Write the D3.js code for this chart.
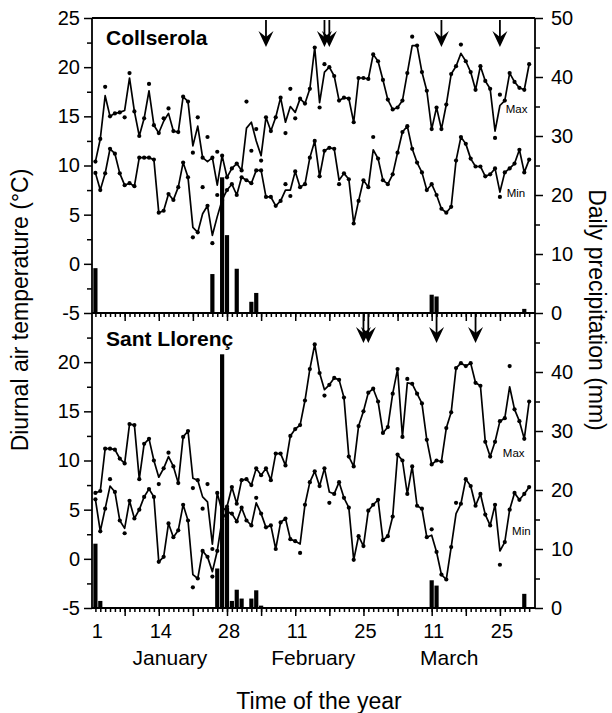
<!DOCTYPE html>
<html>
<head>
<meta charset="utf-8">
<script src="https://cdn.jsdelivr.net/npm/d3@7"></script>
<style>
  body { margin: 0; background: #fff; }
  svg { display: block; }
</style>
</head>
<body>
<div id="chart"></div>
<script>
// daily values, day 1 = 1 January
const collMax = [10.4, 12.7, 17.1, 15.0, 15.3, 15.4, 15.6, 18.9, 15.5, 13.0,
  14.8, 17.6, 14.1, 13.3, 14.5, 15.3, 13.5, 13.4, 17.0, 16.5,
  12.0, 14.0, 10.8, 10.4, 10.8, 8.0, 11.0, 8.8, 9.7, 10.2,
  9.5, 13.8, 14.4, 12.5, 11.0, 14.9, 13.5, 14.9, 16.9, 14.4,
  16.0, 15.4, 16.8, 16.3, 17.8, 22.0, 16.4, 19.5, 20.0, 19.1,
  16.6, 16.9, 16.8, 14.4, 18.9, 18.9, 18.8, 21.3, 20.6, 18.7,
  16.7, 15.7, 15.9, 16.6, 19.4, 22.2, 22.2, 19.5, 17.6, 13.7,
  15.9, 13.7, 16.2, 19.3, 20.1, 21.4, 20.6, 19.5, 17.7, 20.1,
  18.6, 17.8, 13.5, 16.1, 16.6, 19.4, 18.5, 17.9, 17.7, 20.3];
const collMin = [9.25, 7.5, 9.2, 11.7, 11.2, 9.2, 8.0, 8.2, 7.9, 10.8,
  10.8, 10.8, 10.6, 5.2, 5.4, 7.1, 6.5, 7.8, 10.3, 8.8,
  3.7, 3.2, 5.1, 5.9, 2.9, 4.8, 6.5, 7.5, 8.1, 7.0,
  8.8, 8.5, 8.2, 9.5, 9.5, 6.8, 6.8, 5.9, 6.4, 7.5,
  7.5, 9.4, 7.8, 8.1, 10.8, 12.5, 8.9, 11.5, 11.8, 11.7,
  8.5, 9.2, 8.6, 4.1, 6.4, 8.5, 7.8, 11.6, 10.7, 8.5,
  8.1, 9.1, 11.3, 13.4, 14.0, 11.7, 10.3, 9.3, 7.5, 8.1,
  7.0, 5.6, 5.2, 5.8, 10.5, 12.9, 12.2, 10.7, 9.9, 9.9,
  8.9, 9.1, 9.7, 7.3, 9.3, 9.7, 10.2, 11.6, 9.3, 10.6];
const llorMax = [6.7, 6.9, 11.2, 11.2, 11.1, 10.2, 9.7, 13.7, 13.6, 8.1,
  11.7, 12.2, 10.0, 8.3, 9.2, 10.4, 9.4, 7.7, 12.4, 13.0,
  8.2, 8.0, 6.3, 5.8, 1.5, 6.7, 4.8, 5.3, 7.3, 5.6,
  8.0, 8.1, 7.5, 9.2, 8.5, 9.2, 8.0, 10.7, 10.7, 9.5,
  12.5, 13.2, 13.6, 16.1, 19.3, 21.8, 18.9, 17.2, 17.7, 18.4,
  18.2, 16.4, 10.4, 9.4, 13.5, 15.0, 16.9, 17.3, 16.0, 12.8,
  13.4, 16.8, 19.3, 12.4, 17.9, 17.8, 16.8, 15.8, 12.1, 9.6,
  10.0, 9.9, 13.3, 14.9, 19.4, 19.9, 19.6, 19.9, 17.9, 17.6,
  11.9, 10.4, 11.9, 14.0, 14.3, 17.5, 15.2, 14.0, 12.2, 16.0];
const llorMin = [6.05, 2.8, 5.1, 7.4, 6.8, 3.9, 3.1, 5.9, 4.1, 5.0,
  6.3, 7.1, 6.3, -0.3, 0.2, 3.6, 2.2, 2.9, 5.5, 3.9,
  -1.6, -2.0, 0.8, 0.2, -1.3, 0.8, 4.0, 4.8, 4.6, 3.8,
  5.2, 3.9, 3.4, 5.7, 4.6, 3.2, 3.4, 1.0, 3.7, 4.1,
  2.0, 1.8, 1.5, 5.5, 7.8, 8.9, 7.4, 9.2, 6.8, 6.6,
  7.8, 6.2, 5.2, -0.1, 2.3, 1.3, 4.9, 5.5, 6.0, 1.9,
  2.3, 4.3, 10.6, 10.0, 6.6, 9.4, 5.4, 5.1, 2.2, 2.4,
  0.7, -1.6, -2.1, 1.2, 4.6, 5.6, 8.1, 7.4, 5.4, 6.6,
  4.5, 3.4, 5.5, 0.8, 1.7, 5.0, 6.7, 6.0, 6.6, 7.3];

// measured points that sit off the drawn line: [day, value]
const collMaxOff = [[3, 18.0], [7, 14.9], [8, 19.4], [12, 18.3], [15, 14.8], [16, 15.8],
  [21, 11.3], [22, 14.9], [24, 12.9], [26, 11.4], [32, 16.5], [33, 11.5], [34, 13.7],
  [35, 10.5], [40, 13.3], [41, 17.8], [42, 14.8], [47, 15.9], [48, 20.3], [66, 23.1],
  [76, 22.3], [83, 12.8], [84, 17.2]];
const collMinOff = [[21, 2.7], [23, 7.8], [25, 2.1], [26, 7.0], [40, 8.1], [41, 6.9],
  [51, 8.1], [58, 12.9], [84, 6.8]];
const llorMaxOff = [[14, 7.6], [16, 10.8], [21, 7.2], [23, 5.1], [24, 7.6], [25, 1.0],
  [48, 16.6], [65, 18.3], [86, 19.6]];
const llorMinOff = [[4, 8.1], [7, 2.6], [21, -2.9], [25, -1.8], [34, 6.2], [43, 0.6],
  [49, 5.7], [70, 3.0], [75, 5.7], [84, -0.6]];

// daily precipitation (mm)
const collRainDays = [1, 25, 27, 28, 30, 33, 34, 70, 71, 89];
const collRain = [7.6, 6.6, 23.0, 13.2, 7.5, 1.9, 3.4, 3.1, 2.8, 0.7];
const llorRainDays = [1, 2, 26, 27, 28, 29, 30, 31, 33, 34, 35, 70, 71, 89];
const llorRain = [10.9, 1.2, 6.7, 43.0, 17.0, 1.2, 3.1, 1.6, 1.6, 3.0, 0.4, 4.7, 3.8, 2.4];

// arrows (days)
const collArrows = [36, 48, 49, 72, 84];
const llorArrows = [56, 57, 71, 79];

// axes
const tempTicks = [-5, 0, 5, 10, 15, 20, 25];
const tempTicksLow = [-5, 0, 5, 10, 15, 20];
const rainTicks = [0, 10, 20, 30, 40, 50];
const rainTicksLow = [0, 10, 20, 30, 40];
const xTickDays = [1, 14, 28, 42, 56, 70, 84];
const xTickLabels = ['1', '14', '28', '11', '25', '11', '25'];
const months = ['January', 'February', 'March'];
const monthDays = [16.3, 45.7, 73.6];

const FONT = "'Liberation Sans', Arial, Helvetica, sans-serif";
const W = 612, H = 713;
const L = 92, R = 535;

const svg = d3.select('#chart')
  .append('svg')
  .attr('width', W)
  .attr('height', H)
  .style('background', '#fff');

const x = d3.scaleLinear().domain([0.3, 91.2]).range([L, R]);

const panels = [
  { title: 'Collserola', top: 18, bottom: 313, max: collMax, min: collMin,
    maxOff: collMaxOff, minOff: collMinOff, rainDays: collRainDays, rain: collRain,
    arrows: collArrows, arrowFrom: 20, arrowTip: 47,
    tLabels: tempTicks, pLabels: rainTicks,
    maxLab: [85.2, 15.3], minLab: [85.4, 6.75], titleY: 45 },
  { title: 'Sant Llorenç', top: 313, bottom: 608, max: llorMax, min: llorMin,
    maxOff: llorMaxOff, minOff: llorMinOff, rainDays: llorRainDays, rain: llorRain,
    arrows: llorArrows, arrowFrom: 313, arrowTip: 343,
    tLabels: tempTicksLow, pLabels: rainTicksLow,
    maxLab: [84.6, 10.4], minLab: [86.5, 2.4], titleY: 346 }
];

const line = d3.line();

panels.forEach(p => {
  const yT = d3.scaleLinear().domain([-5, 25]).range([p.bottom, p.top]);
  const yP = d3.scaleLinear().domain([0, 50]).range([p.bottom, p.top]);
  const g = svg.append('g');

  // rain bars
  g.selectAll('rect.bar')
    .data(d3.zip(p.rainDays, p.rain))
    .join('rect')
    .attr('class', 'bar')
    .attr('x', d => x(d[0] - 0.43))
    .attr('width', x(0.86) - x(0))
    .attr('y', d => yP(d[1]))
    .attr('height', d => yP(0) - yP(d[1]))
    .attr('fill', '#000');

  // temperature lines + dots
  [[p.max, p.maxOff], [p.min, p.minOff]].forEach(([vals, off]) => {
    g.append('path')
      .attr('d', line.x((d, i) => x(i + 1)).y(d => yT(d))(vals))
      .attr('fill', 'none')
      .attr('stroke', '#000')
      .attr('stroke-width', 1.7)
      .attr('stroke-linejoin', 'round');
    const offMap = new Map(off);
    const pts = vals.map((v, i) => [i + 1, offMap.has(i + 1) ? offMap.get(i + 1) : v]);
    g.selectAll(null)
      .data(pts)
      .join('circle')
      .attr('cx', d => x(d[0]))
      .attr('cy', d => yT(d[1]))
      .attr('r', 2.1)
      .attr('fill', '#000');
  });

  // left axis
  g.append('g').attr('transform', `translate(${L},0)`)
    .call(d3.axisLeft(yT).tickValues(p.tLabels).tickSize(8).tickPadding(4)
      .tickSizeOuter(0).tickFormat(d => String(d)));
  g.append('g').attr('transform', `translate(${L},0)`)
    .call(d3.axisLeft(yT).tickValues(d3.range(-2.5, 25, 5)).tickSize(5)
      .tickSizeOuter(0).tickFormat(''));
  // right axis
  g.append('g').attr('transform', `translate(${R},0)`)
    .call(d3.axisRight(yP).tickValues(p.pLabels).tickSize(8).tickPadding(8)
      .tickSizeOuter(0));
  g.append('g').attr('transform', `translate(${R},0)`)
    .call(d3.axisRight(yP).tickValues(d3.range(5, 50, 10)).tickSize(5)
      .tickSizeOuter(0).tickFormat(''));
  // bottom ticks
  g.append('g').attr('transform', `translate(0,${p.bottom})`)
    .call(d3.axisBottom(x).tickValues(d3.range(7, 91, 7)).tickSize(8)
      .tickSizeOuter(0).tickFormat(''));
  g.append('g').attr('transform', `translate(0,${p.bottom})`)
    .call(d3.axisBottom(x).tickValues(d3.range(1, 91)).tickSize(4)
      .tickSizeOuter(0).tickFormat(''));

  g.selectAll('.domain').remove();
  g.selectAll('.tick line').attr('stroke', '#000').attr('stroke-width', 1.5);
  g.selectAll('.tick text')
    .attr('font-family', FONT)
    .attr('font-size', 20)
    .attr('fill', '#000');

  // arrows
  p.arrows.forEach(d => {
    const ax = x(d), tip = p.arrowTip;
    g.append('line')
      .attr('x1', ax).attr('x2', ax)
      .attr('y1', p.arrowFrom).attr('y2', tip - 8)
      .attr('stroke', '#000').attr('stroke-width', 1.8);
    g.append('path')
      .attr('d', `M${ax - 7.5},${tip - 16} L${ax},${tip} L${ax + 7.5},${tip - 16} L${ax},${tip - 10} Z`)
      .attr('fill', '#000');
  });

  // panel title
  g.append('text')
    .attr('x', 106)
    .attr('y', p.titleY)
    .attr('font-family', FONT)
    .attr('font-size', 21)
    .attr('font-weight', 'bold')
    .text(p.title);

  // series labels
  g.append('text')
    .attr('x', x(p.maxLab[0])).attr('y', yT(p.maxLab[1]))
    .attr('font-family', FONT).attr('font-size', 11.5)
    .text('Max');
  g.append('text')
    .attr('x', x(p.minLab[0])).attr('y', yT(p.minLab[1]))
    .attr('font-family', FONT).attr('font-size', 11.5)
    .text('Min');
});

// frame
const frame = svg.append('g')
  .attr('stroke', '#000')
  .attr('stroke-width', 1.8)
  .attr('fill', 'none');
frame.append('line').attr('x1', L).attr('x2', R).attr('y1', 18).attr('y2', 18);
frame.append('line').attr('x1', L).attr('x2', R).attr('y1', 313).attr('y2', 313);
frame.append('line').attr('x1', L).attr('x2', R).attr('y1', 608).attr('y2', 608);
frame.append('line').attr('x1', L).attr('x2', L).attr('y1', 18).attr('y2', 608);
frame.append('line').attr('x1', R).attr('x2', R).attr('y1', 18).attr('y2', 608);

// x tick labels
svg.append('g')
  .selectAll('text')
  .data(d3.zip(xTickDays, xTickLabels))
  .join('text')
  .attr('x', d => x(d[0]) + 2)
  .attr('y', 638)
  .attr('text-anchor', 'middle')
  .attr('font-family', FONT)
  .attr('font-size', 20)
  .text(d => d[1]);

svg.append('g')
  .selectAll('text')
  .data(d3.zip(monthDays, months))
  .join('text')
  .attr('x', d => x(d[0]))
  .attr('y', 665)
  .attr('text-anchor', 'middle')
  .attr('font-family', FONT)
  .attr('font-size', 21)
  .text(d => d[1]);

// axis titles
svg.append('text')
  .attr('x', 319).attr('y', 709)
  .attr('text-anchor', 'middle')
  .attr('font-family', FONT).attr('font-size', 23)
  .text('Time of the year');

svg.append('text')
  .attr('transform', 'translate(20,310) rotate(-90)')
  .attr('text-anchor', 'middle')
  .attr('dominant-baseline', 'central')
  .attr('font-family', FONT).attr('font-size', 23)
  .text('Diurnal air temperature (°C)');

svg.append('text')
  .attr('transform', 'translate(597,310) rotate(90)')
  .attr('text-anchor', 'middle')
  .attr('dominant-baseline', 'central')
  .attr('font-family', FONT).attr('font-size', 23)
  .text('Daily precipitation (mm)');
</script>
</body>
</html>
